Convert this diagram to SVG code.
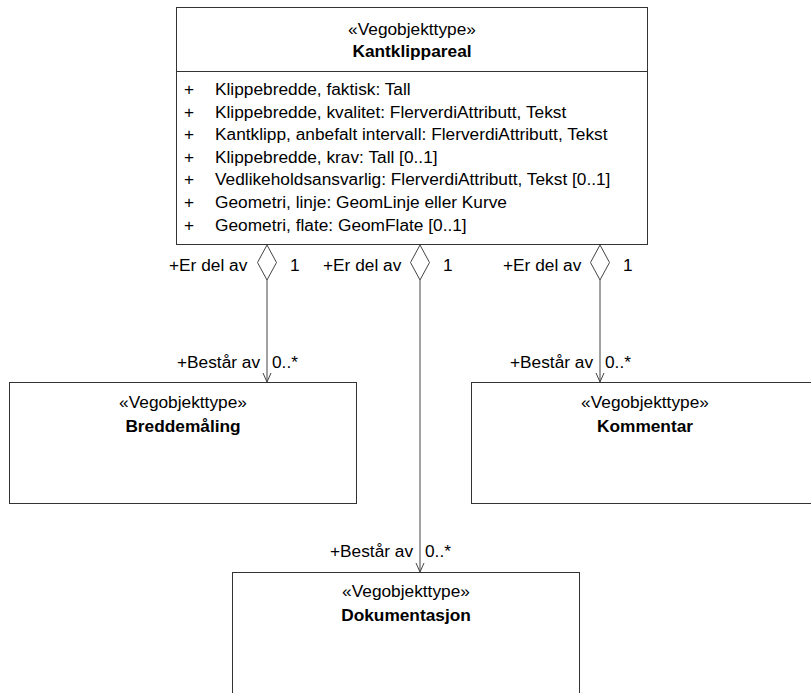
<svg xmlns="http://www.w3.org/2000/svg" width="811" height="693" viewBox="0 0 811 693">
<style>
text{font-family:"Liberation Sans",Arial,sans-serif;font-size:17.3px;fill:#000}
.b{font-weight:bold}
.c{text-anchor:middle}
.box{fill:#fff;stroke:#333;stroke-width:1}
.ln{fill:none;stroke:#444;stroke-width:1}
.dm{fill:#fff;stroke:#444;stroke-width:1}
</style>
<rect width="811" height="693" fill="#fff"/>
<g id="connectors">
<line class="ln" x1="267" y1="280" x2="267" y2="382"/>
<polygon class="dm" points="267,245 276.5,262.5 267,280 257.5,262.5"/>
<polyline class="ln" points="263,373 267,382 271,373"/>
<text x="169" y="271">+Er del av</text><text x="290" y="271">1</text>
<text x="177" y="368">+Består av</text><text x="272" y="368">0..*</text>
<line class="ln" x1="420" y1="280" x2="420" y2="572"/>
<polygon class="dm" points="420,245 429.5,262.5 420,280 410.5,262.5"/>
<polyline class="ln" points="416,563 420,572 424,563"/>
<text x="323" y="271">+Er del av</text><text x="443" y="271">1</text>
<text x="330" y="557">+Består av</text><text x="425" y="557">0..*</text>
<line class="ln" x1="600" y1="280" x2="600" y2="382"/>
<polygon class="dm" points="600,245 609.5,262.5 600,280 590.5,262.5"/>
<polyline class="ln" points="596,373 600,382 604,373"/>
<text x="503" y="271">+Er del av</text><text x="623" y="271">1</text>
<text x="510" y="368">+Består av</text><text x="605" y="368">0..*</text>
</g>
<g id="Kantklippareal">
<rect class="box" x="176.5" y="7.5" width="471" height="237"/>
<line class="ln" x1="176.5" y1="71.5" x2="647.5" y2="71.5" style="stroke:#333"/>
<text class="c" x="412" y="35">«Vegobjekttype»</text>
<text class="c b" x="412" y="57">Kantklippareal</text>
<g>
<text x="184" y="95">+</text><text x="215" y="95">Klippebredde, faktisk: Tall</text>
<text x="184" y="117.6">+</text><text x="215" y="117.6">Klippebredde, kvalitet: FlerverdiAttributt, Tekst</text>
<text x="184" y="140.2">+</text><text x="215" y="140.2">Kantklipp, anbefalt intervall: FlerverdiAttributt, Tekst</text>
<text x="184" y="162.8">+</text><text x="215" y="162.8">Klippebredde, krav: Tall [0..1]</text>
<text x="184" y="185.4">+</text><text x="215" y="185.4">Vedlikeholdsansvarlig: FlerverdiAttributt, Tekst [0..1]</text>
<text x="184" y="208">+</text><text x="215" y="208">Geometri, linje: GeomLinje eller Kurve</text>
<text x="184" y="230.6">+</text><text x="215" y="230.6">Geometri, flate: GeomFlate [0..1]</text>
</g>
</g>
<g id="Breddemaling">
<rect class="box" x="9.5" y="382.5" width="347" height="121"/>
<text class="c" x="183" y="408">«Vegobjekttype»</text>
<text class="c b" x="183" y="432">Breddemåling</text>
</g>
<g id="Kommentar">
<rect class="box" x="471.5" y="382.5" width="348" height="121"/>
<text class="c" x="645" y="408">«Vegobjekttype»</text>
<text class="c b" x="645" y="432">Kommentar</text>
</g>
<g id="Dokumentasjon">
<rect class="box" x="232.5" y="572.5" width="347" height="130"/>
<text class="c" x="406" y="597">«Vegobjekttype»</text>
<text class="c b" x="406" y="621">Dokumentasjon</text>
</g>
</svg>
